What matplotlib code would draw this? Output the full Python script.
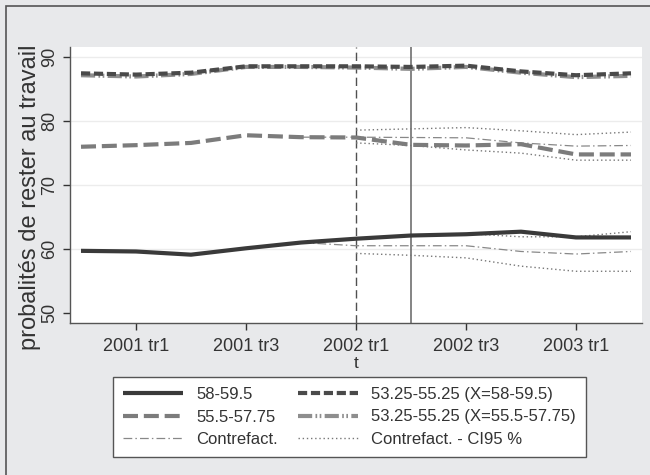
import numpy as np
import matplotlib.pyplot as plt
from matplotlib.patches import Rectangle

plt.rcParams['font.family'] = ['Liberation Sans', 'DejaVu Sans']

# quarters 2000 tr4 .. 2003 tr2
quarters = ["2000 tr4", "2001 tr1", "2001 tr2", "2001 tr3", "2001 tr4", "2002 tr1",
            "2002 tr2", "2002 tr3", "2002 tr4", "2003 tr1", "2003 tr2"]
tick_idx = [1, 3, 5, 7, 9]

g58 = [59.7, 59.6, 59.1, 60.1, 61.0, 61.6, 62.1, 62.3, 62.7, 61.8, 61.8]
g55 = [76.0, 76.25, 76.6, 77.8, 77.5, 77.45, 76.3, 76.2, 76.4, 74.8, 74.8]
c_x58 = [87.5, 87.3, 87.6, 88.6, 88.6, 88.6, 88.5, 88.7, 87.8, 87.2, 87.5]
c_x55 = [87.2, 87.0, 87.4, 88.5, 88.5, 88.4, 88.2, 88.5, 87.6, 86.9, 87.1]

# counterfactuals (from 2001 tr4) and CI95 (from 2002 tr1)
cf58 = [61.0, 60.5, 60.5, 60.5, 59.6, 59.2, 59.6]
cf58_lo = [59.3, 59.0, 58.6, 57.3, 56.5, 56.5]
cf58_hi = [61.7, 62.0, 62.4, 61.9, 61.9, 62.7]
cf55 = [77.5, 77.5, 77.45, 77.4, 76.6, 76.1, 76.2]
cf55_lo = [76.6, 76.2, 75.5, 75.0, 73.9, 73.9]
cf55_hi = [78.6, 78.8, 79.0, 78.5, 77.9, 78.3]

x = np.arange(len(quarters))
x_cf = x[4:]
x_ci = x[5:]

bg = '#e8e9eb'
fig = plt.figure(figsize=(6.5, 4.75), dpi=100, facecolor=bg)
ax = fig.add_axes([70/650, 1-323/475, 572/650, (323-46.5)/475])
ax.set_facecolor('white')

fig.patches.append(Rectangle((6/650, -0.1), 1.2, 1 - 6/475 + 0.1, transform=fig.transFigure,
                             fill=False, edgecolor='#555555', lw=1.2, zorder=0))

for v in [60, 70, 80, 90]:
    ax.axhline(v, color='#ececec', lw=1, zorder=0)

ax.axvline(5, color='#505050', lw=1, dashes=(6, 3), zorder=1)
ax.axvline(6, color='#707070', lw=1.2, zorder=1)

# counterfactual lines
ax.plot(x_cf, cf58, color='#888888', lw=0.9, dashes=(7, 2.5, 1.2, 2.5), zorder=2)
ax.plot(x_cf, cf55, color='#888888', lw=0.9, dashes=(7, 2.5, 1.2, 2.5), zorder=2)
ax.plot(x_ci, cf58_lo, color='#777777', lw=1, dashes=(1, 2), zorder=2)
ax.plot(x_ci, cf58_hi, color='#777777', lw=1, dashes=(1, 2), zorder=2)
ax.plot(x_ci, cf55_lo, color='#777777', lw=1, dashes=(1, 2), zorder=2)
ax.plot(x_ci, cf55_hi, color='#777777', lw=1, dashes=(1, 2), zorder=2)

l1, = ax.plot(x, g58, color='#3a3a3a', lw=3, solid_capstyle='butt', zorder=4)
l2, = ax.plot(x, c_x58, color='#4a4a4a', lw=3, dashes=(2.2, 0.9), zorder=4)
l3, = ax.plot(x, g55, color='#7c7c7c', lw=3, dashes=(3.6, 1.4), zorder=3)
l4, = ax.plot(x, c_x55, color='#8e8e8e', lw=3, dashes=(3.4, 0.8, 0.4, 0.6, 0.4, 0.8), zorder=3)
l5, = ax.plot([], [], color='#888888', lw=0.9, dashes=(7, 2.5, 1.2, 2.5))
l6, = ax.plot([], [], color='#777777', lw=1, dashes=(1, 2))

ax.set_xlim(-0.2, 10.2)
ax.set_ylim(48.4, 91.7)
ax.set_xticks(tick_idx)
ax.set_xticklabels([quarters[i] for i in tick_idx])
ax.set_yticks([50, 60, 70, 80, 90])
ax.tick_params(axis='y', labelrotation=90)
for lab in ax.get_yticklabels():
    lab.set_va('center')
ax.tick_params(labelsize=13, colors='#333333', length=5, width=1, direction='out')
ax.tick_params(axis='x', pad=6)
for s in ['top', 'right']:
    ax.spines[s].set_visible(False)
for s in ['left', 'bottom']:
    ax.spines[s].set_color('#555555')
    ax.spines[s].set_linewidth(1)

ax.set_xlabel('t', fontsize=12.5, color='#333333', labelpad=0.5)
ax.set_ylabel('probalités de rester au travail', fontsize=17, color='#333333')
ax.yaxis.set_label_coords(-0.05, 0.456)

leg = fig.legend([l1, l3, l5, l2, l4, l6],
                 ['58-59.5', '55.5-57.75', 'Contrefact.',
                  '53.25-55.25 (X=58-59.5)', '53.25-55.25 (X=55.5-57.75)', 'Contrefact. - CI95 %'],
                 ncol=2, loc='upper left', bbox_to_anchor=(113/650, 1-377/475),
                 borderaxespad=0, fontsize=12, handlelength=3.6, columnspacing=1.2,
                 labelspacing=0.45, fancybox=False, edgecolor='#555555',
                 framealpha=1, borderpad=0.6, handletextpad=0.8)
leg.get_frame().set_linewidth(1)
for t in leg.get_texts():
    t.set_color('#333333')

fig.savefig('out.png', dpi=100, facecolor=bg)
